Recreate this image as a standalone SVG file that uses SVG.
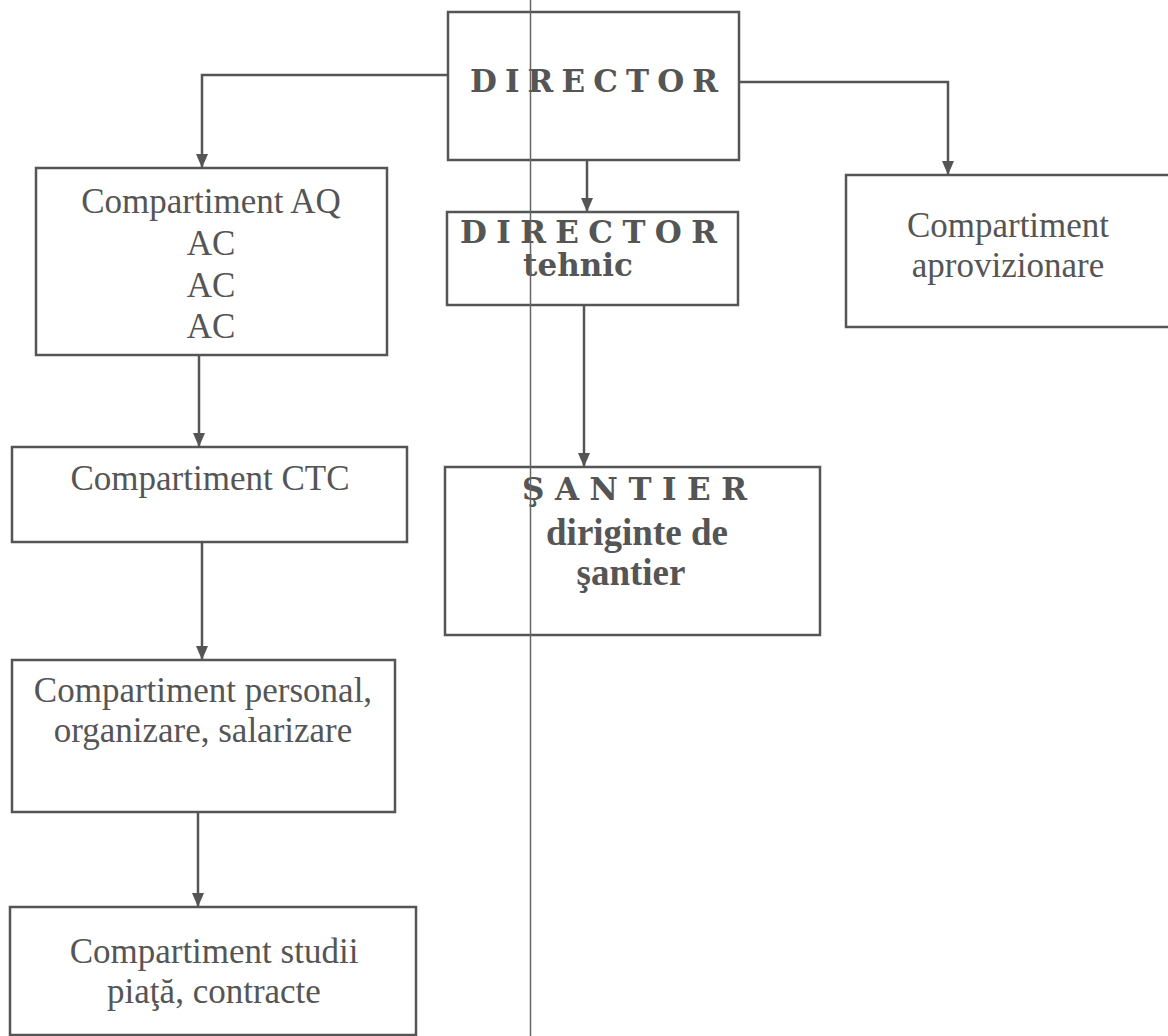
<svg xmlns="http://www.w3.org/2000/svg" width="1168" height="1036" viewBox="0 0 1168 1036">
<style>
.box{fill:#fff;stroke:#555;stroke-width:2.5}
.con{fill:none;stroke:#555;stroke-width:2.5;marker-end:url(#arr)}
.t{font-family:"Liberation Serif","Times New Roman",serif;font-size:35px;fill:#555;text-anchor:middle}
.tb{font-family:"Liberation Serif","Times New Roman",serif;font-size:37px;font-weight:bold;fill:#555;text-anchor:middle}
.slab{font-family:"DejaVu Serif",serif;font-weight:bold;font-size:31px;fill:#555}
</style>
<defs>
<marker id="arr" markerUnits="userSpaceOnUse" markerWidth="14" markerHeight="12" refX="14" refY="6" orient="auto">
<path d="M0,0 L14,6 L0,12 z" fill="#555"/>
</marker>
</defs>
<rect width="1168" height="1036" fill="#fff"/>
<g id="nodes">
<g id="director">
<rect class="box" x="448" y="12" width="291" height="148"/>
<text class="slab" x="470" y="92" textLength="248" lengthAdjust="spacing">DIRECTOR</text>
</g>
<g id="compartiment-aq">
<rect class="box" x="36" y="168" width="351" height="187"/>
<text class="t" x="211" y="213">Compartiment AQ</text>
<text class="t" x="211" y="255">AC</text>
<text class="t" x="211" y="297">AC</text>
<text class="t" x="211" y="338">AC</text>
</g>
<g id="director-tehnic">
<rect class="box" x="447" y="212" width="291" height="93"/>
<text class="slab" x="460" y="243" textLength="257" lengthAdjust="spacing">DIRECTOR</text>
<text class="slab" x="578" y="276" text-anchor="middle" font-size="28">tehnic</text>
</g>
<g id="compartiment-aprovizionare">
<rect class="box" x="846" y="175" width="324" height="152"/>
<text class="t" x="1008" y="237">Compartiment</text>
<text class="t" x="1008" y="277">aprovizionare</text>
</g>
<g id="santier">
<rect class="box" x="445" y="467" width="375" height="168"/>
<text class="slab" x="522" y="500" textLength="225" lengthAdjust="spacing">ŞANTIER</text>
<text class="tb" x="637" y="545">diriginte de</text>
<text class="tb" x="631" y="585">şantier</text>
</g>
<g id="compartiment-ctc">
<rect class="box" x="12" y="447" width="395" height="95"/>
<text class="t" x="210" y="490">Compartiment CTC</text>
</g>
<g id="compartiment-personal">
<rect class="box" x="12" y="660" width="383" height="152"/>
<text class="t" x="203" y="702">Compartiment personal,</text>
<text class="t" x="203" y="742">organizare, salarizare</text>
</g>
<g id="compartiment-studii">
<rect class="box" x="10" y="907" width="406" height="128"/>
<text class="t" x="214" y="963">Compartiment studii</text>
<text class="t" x="214" y="1003">piaţă, contracte</text>
</g>
</g>
<g id="connectors">
<path class="con" d="M448,75 H202 V168"/>
<path class="con" d="M739,82 H948 V175"/>
<path class="con" d="M587,160 V212"/>
<path class="con" d="M584,305 V467"/>
<path class="con" d="M199,355 V447"/>
<path class="con" d="M202,542 V660"/>
<path class="con" d="M198,812 V907"/>
</g>
<line x1="530.5" y1="0" x2="530.5" y2="1036" stroke="#666" stroke-width="1.5"/>
</svg>
